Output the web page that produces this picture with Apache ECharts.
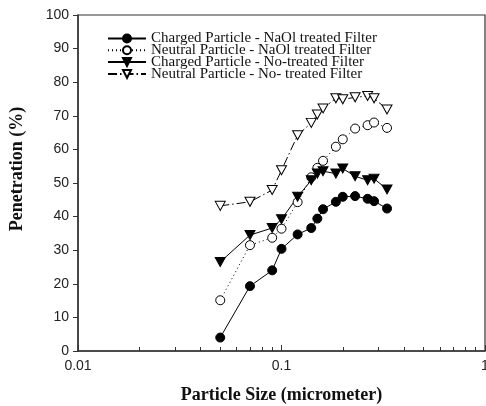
<!DOCTYPE html>
<html>
<head>
<meta charset="utf-8">
<script src="https://cdn.jsdelivr.net/npm/echarts@6/dist/echarts.min.js"></script>
<style>
    html, body { margin: 0; padding: 0; background: #fff; }
    #chart { width: 486px; height: 406px; }
</style>
</head>
<body>
<div id="chart"></div>
<script>
// particle size (micrometer)
var sizes = [0.05, 0.07, 0.09, 0.1, 0.12, 0.14, 0.15, 0.16, 0.185, 0.2, 0.23, 0.265, 0.285, 0.33];

// penetration (%)
var chargedNaOl = [4.0, 19.3, 24.0, 30.4, 34.7, 36.6, 39.4, 42.2, 44.4, 45.9, 46.1, 45.3, 44.6, 42.4];
var neutralNaOl = [15.1, 31.5, 33.7, 36.4, 44.3, 51.7, 54.5, 56.6, 60.8, 63.0, 66.2, 67.2, 68.0, 66.4];
var chargedNo = [26.5, 34.5, 36.6, 39.2, 45.9, 50.8, 52.8, 53.5, 52.8, 54.3, 52.0, 50.8, 51.3, 48.1];
var neutralNo = [43.2, 44.4, 47.9, 53.8, 64.2, 67.9, 70.4, 72.2, 75.2, 74.9, 75.5, 75.9, 75.2, 71.9];

var seriesNames = [
    'Charged Particle - NaOl treated Filter',
    'Neutral Particle - NaOl treated Filter',
    'Charged Particle - No-treated Filter',
    'Neutral Particle - No- treated Filter'
];

// log axis ticks
var majorTicks = [0.01, 0.1, 1];
var minorTicks = [0.02, 0.03, 0.04, 0.05, 0.06, 0.07, 0.08, 0.09,
    0.2, 0.3, 0.4, 0.5, 0.6, 0.7, 0.8, 0.9];

function pairs(ys) {
    var out = [];
    for (var i = 0; i < sizes.length; i++) {
        out.push([sizes[i], ys[i]]);
    }
    return out;
}

function makeSeries(name, ys, symbol, filled, lineType, rotate) {
    return {
        name: name,
        type: 'line',
        data: pairs(ys),
        symbol: symbol,
        symbolSize: symbol === 'circle' ? 9 : [10, 9],
        symbolRotate: rotate || 0,
        showAllSymbol: true,
        itemStyle: {
            color: filled ? '#000' : '#fff',
            borderColor: '#000',
            borderWidth: 1
        },
        lineStyle: { color: '#000', width: 1, type: lineType },
        z: 3
    };
}

var chart = echarts.init(document.getElementById('chart'));

var option = {
    animation: false,
    grid: {
        left: 78,
        right: 1,
        top: 15,
        bottom: 55,
        outerBoundsMode: 'none',
        show: true,
        borderColor: '#333',
        borderWidth: 1.2
    },
    legend: {
        data: seriesNames,
        orient: 'vertical',
        left: 107,
        top: 31,
        padding: 0,
        itemWidth: 38,
        itemHeight: 10,
        itemGap: -3.2,
        textStyle: {
            fontFamily: 'Liberation Serif',
            fontSize: 15,
            lineHeight: 12,
            color: '#111'
        }
    },
    xAxis: [
        {
            type: 'log',
            logBase: 10,
            min: 0.01,
            max: 1,
            axisLine: { lineStyle: { color: '#333', width: 1.5 } },
            axisTick: { inside: true, length: 6, lineStyle: { color: '#333' } },
            axisLabel: {
                margin: 8,
                fontFamily: 'Liberation Sans',
                fontSize: 14,
                color: '#222',
                customValues: majorTicks,
                formatter: function (v) { return String(v); }
            },
            splitLine: { show: false },
            name: 'Particle Size (micrometer)',
            nameLocation: 'middle',
            nameGap: 35,
            nameTextStyle: {
                fontFamily: 'Liberation Serif',
                fontWeight: 'bold',
                fontSize: 18,
                color: '#111'
            }
        },
        {
            type: 'log',
            logBase: 10,
            min: 0.01,
            max: 1,
            position: 'bottom',
            axisLine: { show: false },
            axisTick: {
                inside: true,
                length: 4,
                customValues: minorTicks,
                lineStyle: { color: '#333' }
            },
            axisLabel: { show: false },
            splitLine: { show: false }
        }
    ],
    yAxis: {
        type: 'value',
        min: 0,
        max: 100,
        interval: 10,
        axisLine: { show: true, lineStyle: { color: '#333', width: 1.5 } },
        axisTick: { show: true, length: 5, lineStyle: { color: '#333' } },
        axisLabel: {
            margin: 9,
            fontFamily: 'Liberation Sans',
            fontSize: 14,
            color: '#222'
        },
        splitLine: { show: false }
    },
    graphic: [
        {
            type: 'text',
            x: 17,
            y: 169,
            rotation: Math.PI / 2,
            style: {
                text: 'Penetration (%)',
                fontFamily: 'Liberation Serif',
                fontWeight: 'bold',
                fontSize: 18,
                fill: '#111',
                align: 'center',
                verticalAlign: 'middle'
            }
        }
    ],
    series: [
        makeSeries(seriesNames[0], chargedNaOl, 'circle', true, 'solid'),
        makeSeries(seriesNames[1], neutralNaOl, 'circle', false, [1, 3]),
        makeSeries(seriesNames[2], chargedNo, 'triangle', true, 'solid', 180),
        makeSeries(seriesNames[3], neutralNo, 'triangle', false, [9, 3, 1.5, 3], 180)
    ]
};

chart.setOption(option);
</script>
</body>
</html>
